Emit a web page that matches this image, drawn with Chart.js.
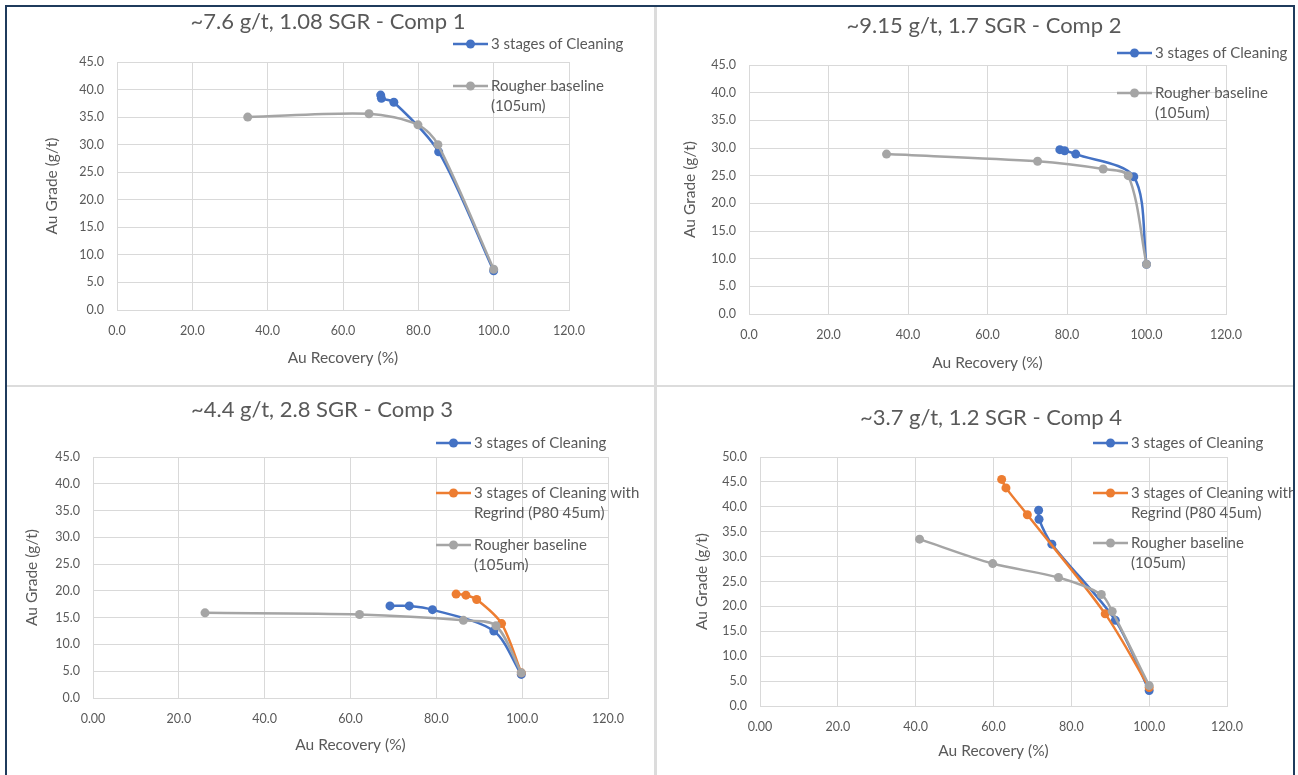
<!DOCTYPE html>
<html>
<head>
<meta charset="utf-8">
<script src="https://cdn.jsdelivr.net/npm/chart.js@4.4.0/dist/chart.umd.min.js"></script>
<style>
html, body { margin: 0; padding: 0; background: #fff; }
#page { position: relative; width: 1298px; height: 775px; overflow: hidden; background: #fff; }
.cell { position: absolute; }
.cell canvas { display: block; }
.frame { position: absolute; background: #1f3b5c; }
.sep { position: absolute; background: #dcdcdc; }
</style>
</head>
<body>
<div id="page">
  <div class="cell" style="left:7px;top:7px;width:647px;height:378px"><canvas id="chart1"></canvas></div>
  <div class="cell" style="left:658px;top:7px;width:635px;height:378px"><canvas id="chart2"></canvas></div>
  <div class="cell" style="left:7px;top:388px;width:647px;height:387px"><canvas id="chart3"></canvas></div>
  <div class="cell" style="left:658px;top:388px;width:635px;height:387px"><canvas id="chart4"></canvas></div>
  <div class="sep" style="left:654px;top:7px;width:3px;height:768px"></div>
  <div class="sep" style="left:7px;top:385px;width:1286px;height:2px"></div>
  <div class="frame" style="left:5px;top:5px;width:2px;height:770px"></div>
  <div class="frame" style="left:5px;top:5px;width:1290px;height:2px"></div>
  <div class="frame" style="left:1293px;top:5px;width:2px;height:770px"></div>
</div>
<script>
// ---- data: Au recovery (%) vs Au grade (g/t) ----
const comp1CleanRec = [70.0, 70.2, 73.5, 85.4, 100.0];
const comp1CleanGrade = [39.0, 38.4, 37.7, 28.7, 7.1];
const comp1RougherRec = [34.7, 66.9, 79.9, 85.2, 100.0];
const comp1RougherGrade = [35.0, 35.6, 33.6, 30.0, 7.4];

const comp2CleanRec = [78.2, 79.4, 82.2, 96.8, 100.0];
const comp2CleanGrade = [29.7, 29.5, 28.9, 24.8, 9.0];
const comp2RougherRec = [34.6, 72.6, 89.1, 95.4, 100.0];
const comp2RougherGrade = [28.9, 27.6, 26.2, 25.0, 9.0];

const comp3CleanRec = [69.2, 73.7, 79.1, 93.4, 99.8];
const comp3CleanGrade = [17.2, 17.2, 16.5, 12.5, 4.4];
const comp3RegrindRec = [84.6, 86.9, 89.4, 95.2, 99.8];
const comp3RegrindGrade = [19.4, 19.2, 18.4, 13.9, 4.7];
const comp3RougherRec = [26.1, 62.1, 86.3, 93.9, 99.8];
const comp3RougherGrade = [15.9, 15.6, 14.5, 13.5, 4.7];

const comp4CleanRec = [71.6, 71.7, 75.0, 91.3, 100.0];
const comp4CleanGrade = [39.3, 37.5, 32.5, 17.2, 3.1];
const comp4RegrindRec = [62.1, 63.2, 68.7, 88.7, 100.0];
const comp4RegrindGrade = [45.5, 43.8, 38.4, 18.5, 3.7];
const comp4RougherRec = [41.0, 59.8, 76.7, 87.7, 90.5, 100.0];
const comp4RougherGrade = [33.5, 28.6, 25.8, 22.4, 19.0, 4.1];

// tick labels
const xTicksA = ['0.0', '20.0', '40.0', '60.0', '80.0', '100.0', '120.0'];
const xTicksB = ['0.00', '20.0', '40.0', '60.0', '80.0', '100.0', '120.0'];
const yTicks45 = ['0.0', '5.0', '10.0', '15.0', '20.0', '25.0', '30.0', '35.0', '40.0', '45.0'];
const yTicks50 = ['0.0', '5.0', '10.0', '15.0', '20.0', '25.0', '30.0', '35.0', '40.0', '45.0', '50.0'];

// series names (legend lines)
const nameClean = ['3 stages of Cleaning'];
const nameRegrind = ['3 stages of Cleaning with', 'Regrind (P80 45um)'];
const nameRougher = ['Rougher baseline', '(105um)'];

const titles = [
    '~7.6 g/t, 1.08 SGR - Comp 1',
    '~9.15 g/t, 1.7 SGR - Comp 2',
    '~4.4 g/t, 2.8 SGR - Comp 3',
    '~3.7 g/t, 1.2 SGR - Comp 4'
];

const BLUE = '#4472c4', ORANGE = '#ed7d31', GREY = '#a5a5a5';
const TXT = '#595959';
const FONT = 'Lato, "Open Sans", sans-serif';
const AXIS_TITLE_SIZE = 15.5;

function pts(xs, ys) {
    return xs.map((x, i) => ({x: x, y: ys[i]}));
}

function series(names, xs, ys, color, order) {
    return {
        label: names.join(' '),
        names: names,
        data: pts(xs, ys),
        showLine: true,
        borderColor: color,
        backgroundColor: color,
        pointBackgroundColor: color,
        pointBorderColor: color,
        borderWidth: 2.5,
        pointRadius: 4.5,
        pointBorderWidth: 0,
        tension: 0.3,
        order: order
    };
}

/* titles and the Excel-like floating legend */
const decor = {
    id: 'decor',
    afterDraw(chart, args, o) {
        const ctx = chart.ctx;
        ctx.save();
        ctx.fillStyle = TXT;
        ctx.textBaseline = 'middle';
        ctx.textAlign = 'center';
        ctx.font = '22px ' + FONT;
        ctx.fillText(o.title, o.titleX, o.titleY);

        ctx.font = '15px ' + FONT;
        ctx.textAlign = 'left';
        const sets = chart.data.datasets;
        sets.forEach((ds, i) => {
            const y = o.legendY[i];
            const x0 = o.legendX;
            ctx.strokeStyle = ds.borderColor;
            ctx.lineWidth = 2.5;
            ctx.beginPath();
            ctx.moveTo(x0, y);
            ctx.lineTo(x0 + 35, y);
            ctx.stroke();
            ctx.fillStyle = ds.borderColor;
            ctx.beginPath();
            ctx.arc(x0 + 17.5, y, 4.5, 0, Math.PI * 2);
            ctx.fill();
            ctx.fillStyle = TXT;
            ds.names.forEach((line, k) => {
                ctx.fillText(line, x0 + 38, y + k * 20);
            });
        });
        ctx.restore();
    }
};

function buildChart(id, p) {
    const c = p.cell;
    const lh = AXIS_TITLE_SIZE * 1.2;
    const padLeft = p.yTitleX - c.x - lh / 2;
    const padBottom = (c.y + c.h) - p.xTitleY - lh / 2;
    const padTop = p.area.t - c.y;
    const padRight = c.x + c.w - p.area.r;
    const yWidth = p.area.l - c.x - padLeft;
    const xHeight = c.y + c.h - padBottom - p.area.b;

    return new Chart(document.getElementById(id), {
        type: 'scatter',
        data: {datasets: p.datasets},
        options: {
            responsive: true,
            maintainAspectRatio: false,
            animation: false,
            layout: {padding: {left: padLeft, right: padRight, top: padTop, bottom: padBottom}},
            plugins: {
                legend: {display: false},
                tooltip: {enabled: false},
                decor: {
                    title: p.title,
                    titleX: p.titleX - c.x,
                    titleY: p.titleY - c.y,
                    legendX: p.legendX - c.x,
                    legendY: p.legendY.map(v => v - c.y)
                }
            },
            scales: {
                x: {
                    type: 'linear',
                    min: 0, max: 120,
                    ticks: {
                        stepSize: 20,
                        padding: 13,
                        color: TXT,
                        font: {family: FONT, size: 12.5},
                        callback: (v, i) => p.xTicks[i]
                    },
                    grid: {color: '#d9d9d9', drawTicks: false},
                    border: {color: '#d9d9d9'},
                    title: {
                        display: true,
                        text: 'Au Recovery (%)',
                        color: TXT,
                        padding: 0,
                        font: {family: FONT, size: AXIS_TITLE_SIZE, lineHeight: 1.2}
                    },
                    afterFit: s => { s.height = xHeight; }
                },
                y: {
                    type: 'linear',
                    min: 0, max: p.yMax,
                    ticks: {
                        stepSize: 5,
                        padding: 13,
                        color: TXT,
                        font: {family: FONT, size: 12.5},
                        callback: (v, i) => p.yTicks[i]
                    },
                    grid: {color: '#d9d9d9', drawTicks: false},
                    border: {color: '#d9d9d9'},
                    title: {
                        display: true,
                        text: 'Au Grade (g/t)',
                        color: TXT,
                        padding: 0,
                        font: {family: FONT, size: AXIS_TITLE_SIZE, lineHeight: 1.2}
                    },
                    afterFit: s => { s.width = yWidth; }
                }
            }
        },
        plugins: [decor]
    });
}

buildChart('chart1', {
    cell: {x: 7, y: 7, w: 647, h: 378},
    area: {l: 117, t: 62, r: 569, b: 310},
    yTitleX: 52, xTitleY: 358,
    title: titles[0], titleX: 328, titleY: 22,
    legendX: 453, legendY: [44, 86],
    xTicks: xTicksA, yTicks: yTicks45, yMax: 45,
    datasets: [
        series(nameClean, comp1CleanRec, comp1CleanGrade, BLUE, 2),
        series(nameRougher, comp1RougherRec, comp1RougherGrade, GREY, 1)
    ]
});

buildChart('chart2', {
    cell: {x: 658, y: 7, w: 635, h: 378},
    area: {l: 749, t: 65, r: 1226, b: 314},
    yTitleX: 690, xTitleY: 363,
    title: titles[1], titleX: 984, titleY: 26,
    legendX: 1117, legendY: [53, 93],
    xTicks: xTicksA, yTicks: yTicks45, yMax: 45,
    datasets: [
        series(nameClean, comp2CleanRec, comp2CleanGrade, BLUE, 2),
        series(nameRougher, comp2RougherRec, comp2RougherGrade, GREY, 1)
    ]
});

buildChart('chart3', {
    cell: {x: 7, y: 388, w: 647, h: 387},
    area: {l: 93, t: 457, r: 608, b: 698},
    yTitleX: 32, xTitleY: 745,
    title: titles[2], titleX: 322, titleY: 410,
    legendX: 436, legendY: [443, 493, 545],
    xTicks: xTicksB, yTicks: yTicks45, yMax: 45,
    datasets: [
        series(nameClean, comp3CleanRec, comp3CleanGrade, BLUE, 3),
        series(nameRegrind, comp3RegrindRec, comp3RegrindGrade, ORANGE, 2),
        series(nameRougher, comp3RougherRec, comp3RougherGrade, GREY, 1)
    ]
});

buildChart('chart4', {
    cell: {x: 658, y: 388, w: 635, h: 387},
    area: {l: 760, t: 457, r: 1227, b: 706},
    yTitleX: 702, xTitleY: 751,
    title: titles[3], titleX: 991, titleY: 418,
    legendX: 1093, legendY: [443, 493, 543],
    xTicks: xTicksB, yTicks: yTicks50, yMax: 50,
    datasets: [
        series(nameClean, comp4CleanRec, comp4CleanGrade, BLUE, 3),
        series(nameRegrind, comp4RegrindRec, comp4RegrindGrade, ORANGE, 2),
        series(nameRougher, comp4RougherRec, comp4RougherGrade, GREY, 1)
    ]
});
</script>
</body>
</html>
